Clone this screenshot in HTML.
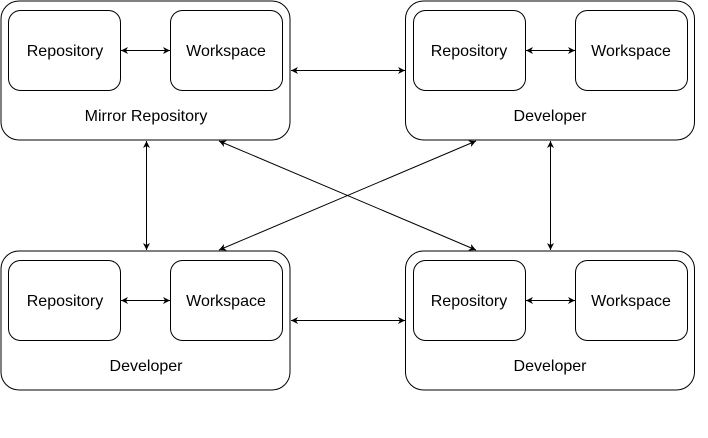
<!DOCTYPE html>
<html><head><style>body{margin:0;background:#fff}</style></head><body>
<svg width="708" height="433" xmlns="http://www.w3.org/2000/svg" font-family="Liberation Sans, sans-serif" font-size="16">
<defs>
<marker id="a" markerWidth="8" markerHeight="8" refX="7" refY="4" orient="auto-start-reverse" markerUnits="userSpaceOnUse">
<path d="M0,0.5 L7,4 L0,7.5 L2,4 Z" fill="#000"/>
</marker>
</defs>
<g fill="#fff" stroke="#000" stroke-width="1">
<rect x="1" y="1" width="289" height="139" rx="18"/>
<rect x="405.5" y="1" width="289" height="139" rx="18"/>
<rect x="1" y="251" width="289" height="139" rx="18"/>
<rect x="405.5" y="251" width="289" height="139" rx="18"/>
<rect x="8.5" y="10.5" width="112" height="80" rx="12"/>
<rect x="170.5" y="10.5" width="112" height="80" rx="12"/>
<rect x="413.5" y="10.5" width="112" height="80" rx="12"/>
<rect x="575.5" y="10.5" width="112" height="80" rx="12"/>
<rect x="8.5" y="260.5" width="112" height="80" rx="12"/>
<rect x="170.5" y="260.5" width="112" height="80" rx="12"/>
<rect x="413.5" y="260.5" width="112" height="80" rx="12"/>
<rect x="575.5" y="260.5" width="112" height="80" rx="12"/>
</g>
<g stroke="#000" stroke-width="1" marker-start="url(#a)" marker-end="url(#a)" fill="none">
<line x1="121" y1="50.5" x2="170" y2="50.5"/>
<line x1="526" y1="50.5" x2="575" y2="50.5"/>
<line x1="121" y1="300.5" x2="170" y2="300.5"/>
<line x1="526" y1="300.5" x2="575" y2="300.5"/>
<line x1="291" y1="70.5" x2="405" y2="70.5"/>
<line x1="291" y1="320.5" x2="405" y2="320.5"/>
<line x1="146.5" y1="141" x2="146.5" y2="250"/>
<line x1="550.5" y1="141" x2="550.5" y2="250"/>
<line x1="219" y1="141" x2="476" y2="250"/>
<line x1="476" y1="141" x2="219" y2="250"/>
</g>
<g text-anchor="middle" fill="#000">
<text x="65" y="56">Repository</text>
<text x="226" y="56">Workspace</text>
<text x="469" y="56">Repository</text>
<text x="631" y="56">Workspace</text>
<text x="65" y="306">Repository</text>
<text x="226" y="306">Workspace</text>
<text x="469" y="306">Repository</text>
<text x="631" y="306">Workspace</text>
<text x="146" y="121">Mirror Repository</text>
<text x="550" y="121">Developer</text>
<text x="146" y="371">Developer</text>
<text x="550" y="371">Developer</text>
</g>
</svg>
</body></html>
